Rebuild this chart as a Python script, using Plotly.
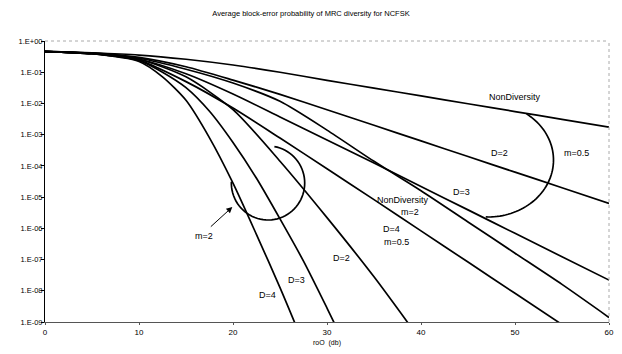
import numpy as np
import plotly.graph_objects as go

# ---------------- data ----------------
snr = [0, 5, 10, 15, 20, 25, 30, 35, 40, 45, 50, 55, 60]

nd_m05 = [0.47, 0.42, 0.355, 0.26, 0.17, 0.10, 0.055, 0.031, 0.0174, 0.0098, 0.0055, 0.0031, 0.00174]
d2_m05 = [0.47, 0.41, 0.30, 0.15, 0.056, 0.0195, 6.3e-3, 2.0e-3, 6.3e-4, 2.0e-4, 6.3e-5, 2.0e-5, 6.3e-6]
d3_m05 = [0.46, 0.40, 0.26, 0.089, 0.020, 3.7e-3, 6.8e-4, 1.23e-4, 2.2e-5, 3.9e-6, 6.9e-7, 1.23e-7, 2.2e-8]
nd_m2 = [0.46, 0.40, 0.28, 0.125, 0.045, 0.0117, 1.4e-3, 1.4e-4, 1.6e-5, 1.6e-6, 1.6e-7, 1.6e-8, 1.4e-9]

snr_d4_m05 = [0, 5, 10, 15, 20, 25, 30, 35, 40, 45, 50, 55]
d4_m05 = [0.46, 0.39, 0.24, 0.050, 7.1e-3, 7.8e-4, 8.1e-5, 8.3e-6, 8.3e-7, 8.3e-8, 8.3e-9, 8.3e-10]

snr_d2_m2 = [0, 5, 10, 15, 20, 25, 30, 35, 40]
d2_m2 = [0.46, 0.40, 0.26, 0.071, 6.3e-3, 1.41e-4, 2.2e-6, 2.8e-8, 2.5e-10]

snr_d3_m2 = [0, 5, 10, 12.5, 15, 17.5, 20, 22.5, 25, 27.5, 30, 32.5]
d3_m2 = [0.46, 0.39, 0.24, 0.10, 0.032, 5.6e-3, 5.6e-4, 4.0e-5, 2.0e-6, 8.9e-8, 2.8e-9, 7.9e-11]

snr_d4_m2 = [0, 5, 10, 12.5, 15, 17.5, 20, 22.5, 25, 27.5]
d4_m2 = [0.46, 0.39, 0.22, 0.071, 0.0126, 7.9e-4, 2.8e-5, 6.3e-7, 1.26e-8, 2.0e-10]

y_tickvals = [1e0, 1e-1, 1e-2, 1e-3, 1e-4, 1e-5, 1e-6, 1e-7, 1e-8, 1e-9]
y_ticktext = ["1.E+00", "1.E-01", "1.E-02", "1.E-03", "1.E-04",
              "1.E-05", "1.E-06", "1.E-07", "1.E-08", "1.E-09"]
x_tickvals = [0, 10, 20, 30, 40, 50, 60]

title_text = "Average block-error probability of MRC diversity for NCFSK"
x_title = "roO  (db)"

# ---------------- layout geometry ----------------
# the page body adds an 8 px margin, so the figure is sized to fill the rest of the window
OFF = 8
W, H = 622 - OFF, 354 - OFF
# plot area in page pixels: x 45..614, y 41..322
L, T = 45 - OFF, 41 - OFF
R = W - (614 - OFF)
B = H - (322 - OFF)
PW, PH = W - L - R, H - T - B
FONT = "Liberation Sans, Arial, sans-serif"


def px2paper(px, py):
    """page pixel -> paper fraction of plot area"""
    fx, fy = px - OFF, py - OFF
    return (fx - L) / PW, (H - B - fy) / PH


fig = go.Figure()
series = [
    (snr, nd_m05), (snr, d2_m05), (snr, d3_m05), (snr, nd_m2),
    (snr_d4_m05, d4_m05), (snr_d2_m2, d2_m2), (snr_d3_m2, d3_m2), (snr_d4_m2, d4_m2),
]
for xs, ys in series:
    fig.add_trace(go.Scatter(
        x=xs, y=ys, mode="lines",
        line=dict(color="black", width=1.7, shape="spline", smoothing=0.7),
        showlegend=False, hoverinfo="skip"))

# ---------------- curve labels ----------------
labels = [
    ("NonDiversity", 519, 97), ("m=0.5", 581, 153), ("D=2", 504, 153), ("D=3", 465, 192),
    ("NonDiversity", 406, 200), ("m=2", 413, 212), ("D=4", 395, 229), ("m=0.5", 400, 242),
    ("D=2", 344, 258), ("D=3", 299, 280), ("D=4", 269, 295), ("m=2", 205, 236),
]
annotations = []
for txt, px, py in labels:
    xp, yp = px2paper(px, py)
    annotations.append(dict(text=txt, x=xp, y=yp, xref="paper", yref="paper",
                            showarrow=False, font=dict(family=FONT, size=9, color="black"),
                            xanchor="center", yanchor="middle"))
# arrow from "m=2" to small circle
hx, hy = px2paper(234, 207)
annotations.append(dict(text="", x=hx, y=hy, xref="paper", yref="paper", showarrow=True,
                        ax=-23, ay=21, arrowhead=2, arrowsize=1.2, arrowwidth=1, arrowcolor="black"))


def arc_path(cx, cy, rx, ry, t0, t1, n=60):
    ts = np.radians(np.linspace(t0, t1, n))
    pts = [px2paper(cx + rx * np.cos(t), cy - ry * np.sin(t)) for t in ts]
    return "M " + " L ".join(f"{a:.5f},{b:.5f}" for a, b in pts)


shapes = [
    dict(type="path", xref="paper", yref="paper", path=arc_path(270, 183, 37, 37, 80, -182),
         line=dict(color="black", width=1.7)),
    dict(type="path", xref="paper", yref="paper", path=arc_path(492, 160, 66, 57, 54, -92),
         line=dict(color="black", width=1.7)),
    # dotted top and right borders
    dict(type="line", xref="paper", yref="paper", x0=0, x1=1, y0=1, y1=1,
         line=dict(color="#aaa", width=1, dash="dot")),
    dict(type="line", xref="paper", yref="paper", x0=1, x1=1, y0=0, y1=1,
         line=dict(color="#aaa", width=1, dash="dot")),
]

fig.update_layout(
    width=W, height=H, margin=dict(l=L, r=R, t=T, b=B, pad=0),
    paper_bgcolor="white", plot_bgcolor="white", showlegend=False,
    title=dict(text=title_text, x=(311 - OFF) / W, xref="container", xanchor="center",
               y=1 - (13 - OFF) / H, yref="container", yanchor="middle",
               font=dict(family=FONT, size=7.5, color="black")),
    xaxis=dict(range=[0, 60], tickvals=x_tickvals, showgrid=False, zeroline=False,
               showline=True, linecolor="#555", linewidth=1, ticks="outside", ticklen=2,
               tickcolor="#555", tickfont=dict(family=FONT, size=8, color="black"),
               title=dict(text=x_title, font=dict(family=FONT, size=7, color="black"), standoff=4)),
    yaxis=dict(type="log", range=[-9, 0], tickvals=y_tickvals, ticktext=y_ticktext,
               showgrid=False, zeroline=False, showline=True, linecolor="black", linewidth=1,
               ticks="outside", ticklen=3, tickcolor="black", ticklabelstandoff=-3,
               tickfont=dict(family=FONT, size=7.5, color="black")),
    annotations=annotations, shapes=shapes,
)

fig.write_html("out.html")
